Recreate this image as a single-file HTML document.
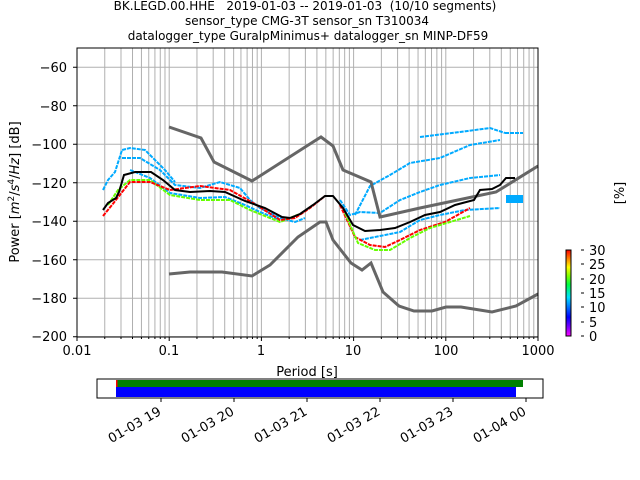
<!DOCTYPE html>
<html><head><meta charset="utf-8"><style>
body{margin:0;background:#fff}
svg{display:block;font-family:"DejaVu Sans","Liberation Sans",sans-serif}
</style></head><body>
<svg id="s" width="640" height="480" viewBox="0 0 640 480" xmlns="http://www.w3.org/2000/svg">
<rect width="640" height="480" fill="#fff"/>
<g font-size="12" text-anchor="middle" fill="#000" style="white-space:pre">
<text x="305" y="10" xml:space="preserve">BK.LEGD.00.HHE   2019-01-03 -- 2019-01-03  (10/10 segments)</text>
<text x="307" y="25">sensor_type CMG-3T sensor_sn T310034</text>
<text x="308" y="40">datalogger_type GuralpMinimus+ datalogger_sn MINP-DF59</text>
</g>
<g id="grid" stroke="#b0b0b0" stroke-width="1"></g>
<g id="psd"></g>
<polyline fill="none" stroke="#666" stroke-width="3" points="169,127 201,138 214,162 252,181 313,142 321,137 333,146 343,170 371,182 380,217 420,208 496,192 538,166"/>
<polyline fill="none" stroke="#666" stroke-width="3" points="169,274 190,272 222,272 252,276 270,265 298,237 320,222 326,222 333,240 351,263 362,270 371,263 383,292 399,306 414,311 432,311 446,307 461,307 492,312 516,306 538,294"/>
<polyline fill="none" stroke="#000" stroke-width="2" points="103,210 108,203 116,198 119,192 124,175 135,172 151,172 163,180 175,190 190,192 210,191 225,192 245,201 265,208 282,217 290,218 300,214 313,205 325,196 333,196 343,208 353,225 365,231 380,230 395,228 410,222 425,215 440,212 455,205 474,200 480,190 492,189 500,185 506,178 515,178"/>
<rect x="77" y="48" width="461" height="289" fill="none" stroke="#000" stroke-width="1"/>
<g id="ticks" stroke="#000"></g>
<g font-size="13" fill="#000">
<g text-anchor="end">
<text x="67" y="72">−60</text><text x="67" y="111">−80</text><text x="67" y="149">−100</text><text x="67" y="188">−120</text><text x="67" y="226">−140</text><text x="67" y="265">−160</text><text x="67" y="303">−180</text><text x="67" y="341">−200</text>
</g>
<g text-anchor="middle">
<text x="77" y="355">0.01</text><text x="169" y="355">0.1</text><text x="261" y="355">1</text><text x="353" y="355">10</text><text x="446" y="355">100</text><text x="538" y="355">1000</text>
<text x="307" y="376">Period [s]</text>
</g>
<text transform="translate(19,192) rotate(-90)" text-anchor="middle">Power [<tspan font-style="italic">m</tspan><tspan dy="-5" font-size="9">2</tspan><tspan dy="5">/</tspan><tspan font-style="italic">s</tspan><tspan dy="-5" font-size="9">4</tspan><tspan dy="5">/</tspan><tspan font-style="italic">Hz</tspan>] [dB]</text>
<text transform="translate(624,193) rotate(-90)" text-anchor="middle">[%]</text>
</g>
<defs><linearGradient id="cb" x1="0" y1="1" x2="0" y2="0">
<stop offset="0" stop-color="#ff00ff"/><stop offset="0.1" stop-color="#8000ff"/><stop offset="0.22" stop-color="#0000ff"/><stop offset="0.35" stop-color="#0080ff"/><stop offset="0.45" stop-color="#00e0ff"/><stop offset="0.6" stop-color="#00ff40"/><stop offset="0.7" stop-color="#80ff00"/><stop offset="0.8" stop-color="#ffff00"/><stop offset="0.9" stop-color="#ff8000"/><stop offset="1" stop-color="#ff0000"/>
</linearGradient></defs>
<rect x="566" y="250" width="5" height="86" fill="url(#cb)" stroke="#000" stroke-width="1"/>
<g stroke="#000"><line x1="581" y1="250" x2="584" y2="250"/><line x1="581" y1="264" x2="584" y2="264"/><line x1="581" y1="279" x2="584" y2="279"/><line x1="581" y1="293" x2="584" y2="293"/><line x1="581" y1="307" x2="584" y2="307"/><line x1="581" y1="322" x2="584" y2="322"/><line x1="581" y1="336" x2="584" y2="336"/></g>
<g font-size="13" fill="#000"><text x="589" y="255">30</text><text x="589" y="269">25</text><text x="589" y="284">20</text><text x="589" y="298">15</text><text x="589" y="312">10</text><text x="589" y="327">5</text><text x="589" y="341">0</text></g>
<rect x="97" y="379" width="446" height="19" fill="#fff" stroke="#000"/>
<rect x="116" y="380" width="407" height="7" fill="#008000"/>
<rect x="116" y="380" width="1.5" height="7" fill="#f00"/>
<rect x="116" y="387" width="400" height="10" fill="#0000ff"/>
<g stroke="#000"><line x1="161" y1="398" x2="161" y2="402"/><line x1="234" y1="398" x2="234" y2="402"/><line x1="307" y1="398" x2="307" y2="402"/><line x1="380" y1="398" x2="380" y2="402"/><line x1="453" y1="398" x2="453" y2="402"/><line x1="526" y1="398" x2="526" y2="402"/></g>
<g font-size="13" fill="#000" text-anchor="end">
<text transform="translate(162,414) rotate(-30)">01-03 19</text>
<text transform="translate(235,414) rotate(-30)">01-03 20</text>
<text transform="translate(308,414) rotate(-30)">01-03 21</text>
<text transform="translate(381,414) rotate(-30)">01-03 22</text>
<text transform="translate(454,414) rotate(-30)">01-03 23</text>
<text transform="translate(527,414) rotate(-30)">01-04 00</text>
</g>
</svg>
<script>
var NS="http://www.w3.org/2000/svg";
function X(p){return 77+(Math.log10(p)+2)*92.2;}
function el(g,t,a){var e=document.createElementNS(NS,t);for(var k in a)e.setAttribute(k,a[k]);document.getElementById(g).appendChild(e);return e;}
for(var d=-2;d<=3;d++)for(var k=1;k<=9;k++){var p=k*Math.pow(10,d);if(p>1000)break;var x=X(p);
 if(x>77.5&&x<537.5)el("grid","line",{x1:x,y1:48,x2:x,y2:337});
 el("ticks","line",{x1:x,y1:337,x2:x,y2:k==1?341:339});}
for(var v=-60;v>=-200;v-=20){var y=48+(-50-v)*1.925;el("grid","line",{x1:77,y1:y,x2:538,y2:y});el("ticks","line",{x1:73,y1:y,x2:77,y2:y});}
var segs=[
 ["#00aaff",2,[[103,190],[108,180],[115,172],[122,150],[130,148],[145,150],[155,160],[165,170],[175,182]]],
 ["#00aaff",2,[[122,158],[140,158],[160,170],[175,185],[200,188],[220,182],[240,188],[250,200],[260,208],[280,218],[295,222],[305,218]]],
 ["#00aaff",2,[[130,170],[150,178],[170,193],[200,198],[225,197],[245,205],[260,212],[280,220]]],
 ["#66ff00",2,[[108,205],[118,190],[130,180],[150,180],[170,195],[200,200],[230,200],[250,210],[280,222],[300,214]]],
 ["#ff0000",2,[[103,216],[112,205],[130,182],[150,182],[170,190],[200,186],[230,190],[255,204],[280,220],[295,218],[310,208],[325,196]]],
 ["#00aaff",2,[[340,200],[350,215],[360,212],[380,213],[400,200],[420,192],[440,185],[470,178],[500,175]]],
 ["#00aaff",2,[[355,215],[370,186],[390,175],[410,163],[440,158],[470,145],[500,140]]],
 ["#00aaff",2,[[360,240],[380,236],[400,232],[420,220],[440,215],[465,210],[500,208]]],
 ["#ff0000",2,[[340,205],[355,237],[370,245],[385,247],[400,240],[420,230],[445,222],[470,208]]],
 ["#66ff00",2,[[345,213],[358,243],[375,250],[390,250],[410,238],[430,228],[470,216]]],
 ["#00aaff",2,[[420,137],[460,132],[490,128],[505,133]]],
 ["#00aaff",8,[[506,199],[523,199]]],
 ["#00aaff",2,[[505,133],[523,133]]]
];
segs.forEach(function(s){el("psd","polyline",{fill:"none",stroke:s[0],"stroke-width":s[1],"stroke-dasharray":s[1]>3?"":"4 1",points:s[2].map(function(q){return q.join(",")}).join(" ")});});
</script>
</body></html>
